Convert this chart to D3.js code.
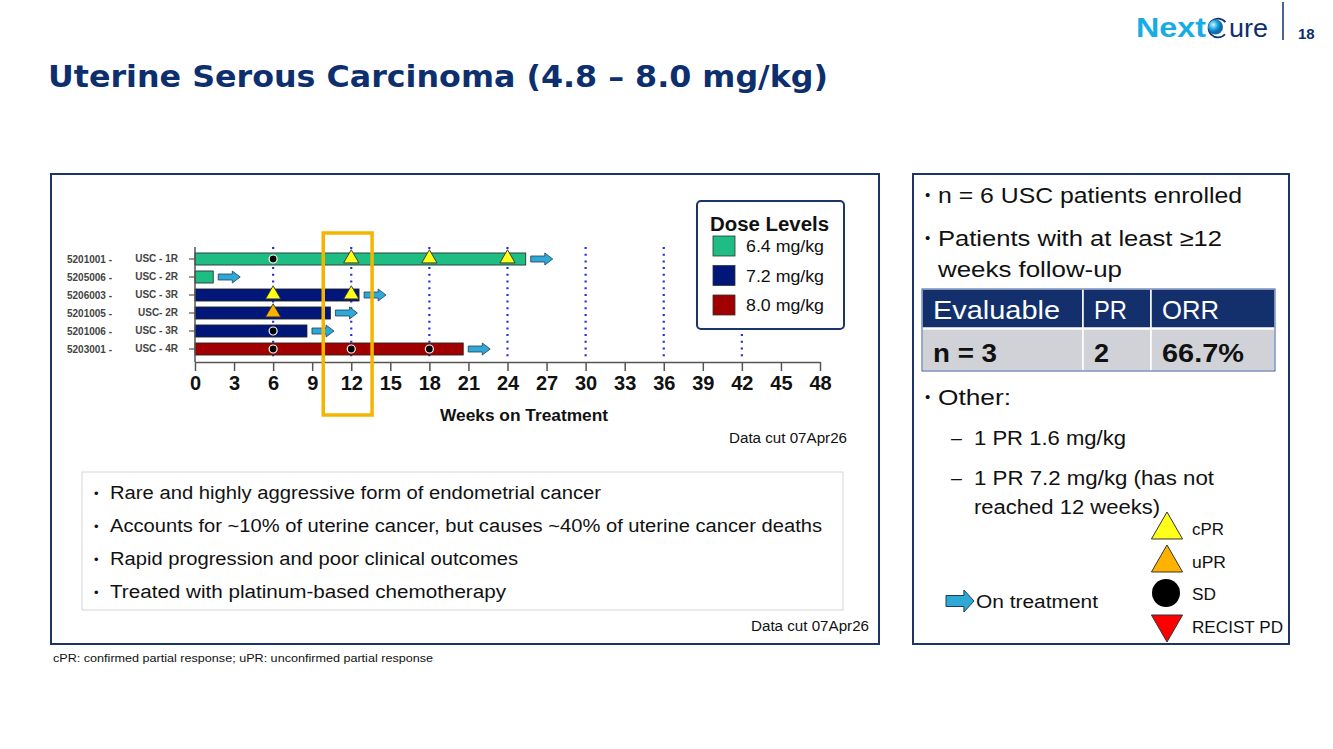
<!DOCTYPE html>
<html>
<head>
<meta charset="utf-8">
<script src="https://cdn.jsdelivr.net/npm/d3@7"></script>
<style>
  body { margin: 0; background: #fff; }
  svg { display: block; }
  text { font-family: "Liberation Sans", Arial, sans-serif; }
</style>
</head>
<body>
<svg id="slide" width="1333" height="749"></svg>
<script>
// patients on the swimmer plot, top to bottom
const patientIds = ["5201001 -", "5205006 -", "5206003 -", "5201005 -", "5201006 -", "5203001 -"];
const cohorts = ["USC - 1R", "USC - 2R", "USC - 3R", "USC- 2R", "USC - 3R", "USC - 4R"];
const weeksOnTx = [25.4, 1.4, 12.6, 10.4, 8.6, 20.6];
const doseOfPatient = ["6.4 mg/kg", "6.4 mg/kg", "7.2 mg/kg", "7.2 mg/kg", "7.2 mg/kg", "8.0 mg/kg"];

// response assessments: [row, week, type]
const assessments = [
  [0, 6, "SD"], [0, 12, "cPR"], [0, 18, "cPR"], [0, 24, "cPR"],
  [2, 6, "cPR"], [2, 12, "cPR"],
  [3, 6, "uPR"],
  [4, 6, "SD"],
  [5, 6, "SD"], [5, 12, "SD"], [5, 18, "SD"]
];

const doseLevels = ["6.4 mg/kg", "7.2 mg/kg", "8.0 mg/kg"];
const doseColors = ["#1ebd84", "#00177a", "#a10000"];
const xTicks = d3.range(0, 49, 3);
const scanWeeks = [6, 12, 18, 24, 30, 36, 42];

const bulletLines = [
  "Rare and highly aggressive form of endometrial cancer",
  "Accounts for ~10% of uterine cancer, but causes ~40% of uterine cancer deaths",
  "Rapid progression and poor clinical outcomes",
  "Treated with platinum-based chemotherapy"
];
const bulletWidths = [491, 712, 408, 396];

const tableHeader = ["Evaluable", "PR", "ORR"];
const tableRow = ["n = 3", "2", "66.7%"];

const navy = "#0d2f6e";
const svg = d3.select("#slide");

// text helper; width squeezes/stretches to the slide's Calibri metrics
function txt(xx, yy, size, str, width, opts = {}) {
  const t = svg.append("text").attr("x", xx).attr("y", yy)
    .style("font-size", size + "px")
    .attr("fill", opts.fill || "#111")
    .style("font-weight", opts.bold ? "bold" : null)
    .attr("text-anchor", opts.anchor || null)
    .text(str);
  if (width) t.attr("textLength", width).attr("lengthAdjust", "spacingAndGlyphs");
  return t;
}

// ---- header ----
svg.append("text")
  .attr("x", 48).attr("y", 87)
  .attr("fill", navy)
  .style("font-family", "'DejaVu Sans', sans-serif")
  .style("font-weight", "bold")
  .style("font-size", "31px")
  .attr("textLength", 780).attr("lengthAdjust", "spacingAndGlyphs")
  .text("Uterine Serous Carcinoma (4.8 – 8.0 mg/kg)");

// logo
txt(1136, 37, 27, "Next", 70, {bold: true, fill: "#17ace6"});
const grad = svg.append("defs").append("radialGradient").attr("id", "ball")
  .attr("cx", "35%").attr("cy", "35%");
grad.append("stop").attr("offset", "0%").attr("stop-color", "#d8f4ff");
grad.append("stop").attr("offset", "60%").attr("stop-color", "#1ea6e0");
grad.append("stop").attr("offset", "100%").attr("stop-color", "#0b6fb0");
svg.append("path")
  .attr("d", d3.arc()({innerRadius: 8.6, outerRadius: 10.3, startAngle: 2.3, endAngle: 2 * Math.PI + 0.9}))
  .attr("transform", "translate(1218,28)").attr("fill", navy);
svg.append("circle").attr("cx", 1215.5).attr("cy", 27).attr("r", 7.5).attr("fill", "url(#ball)");
txt(1229, 37, 25, "ure", 39, {fill: navy});
svg.append("line").attr("x1", 1283).attr("x2", 1283).attr("y1", 2).attr("y2", 40)
  .attr("stroke", navy).attr("stroke-width", 1.5);
txt(1298, 39, 15, "18", null, {bold: true, fill: navy});

// ---- left panel ----
svg.append("rect").attr("x", 51).attr("y", 174).attr("width", 828).attr("height", 470)
  .attr("fill", "#fff").attr("stroke", "#1b3568").attr("stroke-width", 2);

const x = d3.scaleLinear().domain([0, 48]).range([195, 820]);
const y = d3.scaleBand().domain(d3.range(patientIds.length)).range([250, 358])
  .paddingInner(0.33).paddingOuter(0.165);
const axisY = 362;
const doseColor = d3.scaleOrdinal().domain(doseLevels).range(doseColors);

// dotted scan lines
svg.append("g").selectAll("line").data(scanWeeks).join("line")
  .attr("x1", d => x(d)).attr("x2", d => x(d))
  .attr("y1", 247).attr("y2", 358)
  .attr("stroke", "#2a2fd0").attr("stroke-width", 2.2)
  .attr("stroke-dasharray", "2,4.7");

// bars
svg.append("g").selectAll("rect").data(weeksOnTx).join("rect")
  .attr("x", x(0)).attr("y", (d, i) => y(i))
  .attr("width", d => x(d) - x(0)).attr("height", y.bandwidth())
  .attr("fill", (d, i) => doseColor(doseOfPatient[i]))
  .attr("stroke", "#222").attr("stroke-width", 0.8);

// on-treatment arrows
function arrowPath(x0, cy, len, body, head) {
  const hl = len * 0.36;
  return `M${x0},${cy - body / 2} L${x0 + len - hl},${cy - body / 2} L${x0 + len - hl},${cy - head / 2}` +
    ` L${x0 + len},${cy} L${x0 + len - hl},${cy + head / 2} L${x0 + len - hl},${cy + body / 2}` +
    ` L${x0},${cy + body / 2} Z`;
}
svg.append("g").selectAll("path").data(weeksOnTx).join("path")
  .attr("d", (d, i) => arrowPath(x(d) + 5, y(i) + y.bandwidth() / 2, 22, 6, 12))
  .attr("fill", "#2fa8d6").attr("stroke", "#1c3c5c").attr("stroke-width", 0.8);

// response markers
const tri = d3.symbol().type(d3.symbolTriangle).size(100);
const markerColor = {cPR: "#ffff1a", uPR: "#ffb300"};
const marks = svg.append("g");
assessments.forEach(([row, wk, type]) => {
  const cx = x(wk), cy = y(row) + y.bandwidth() / 2;
  if (type === "SD") {
    marks.append("circle").attr("cx", cx).attr("cy", cy).attr("r", 4)
      .attr("fill", "#000").attr("stroke", "#fff").attr("stroke-width", 1.2);
  } else {
    marks.append("path").attr("d", tri)
      .attr("transform", `translate(${cx},${cy - 0.5})`)
      .attr("fill", markerColor[type]).attr("stroke", "#333").attr("stroke-width", 0.9);
  }
});

// x axis
const xAxis = svg.append("g").attr("transform", `translate(0,${axisY})`)
  .call(d3.axisBottom(x).tickValues(xTicks).tickSize(9).tickSizeOuter(0).tickPadding(5));
xAxis.select(".domain").attr("stroke", "#555").attr("stroke-width", 1.5);
xAxis.selectAll(".tick line").attr("stroke", "#555").attr("stroke-width", 1.5);
xAxis.selectAll(".tick text")
  .style("font-family", "'Liberation Sans', sans-serif")
  .style("font-size", "20px").style("font-weight", "bold").attr("fill", "#111");

// y axis
const yAxis = svg.append("g").attr("transform", `translate(${x(0)},0)`)
  .call(d3.axisLeft(y).tickSize(6).tickSizeOuter(0).tickPadding(11).tickFormat(i => cohorts[i]));
yAxis.select(".domain").attr("d", `M0,247V${axisY}`).attr("stroke", "#555").attr("stroke-width", 1.5);
yAxis.selectAll(".tick line").attr("stroke", "#555").attr("stroke-width", 1.2);
yAxis.selectAll(".tick text")
  .style("font-size", "10px").style("font-weight", "bold").attr("fill", "#444");
svg.append("g").selectAll("text").data(patientIds).join("text")
  .attr("x", 67).attr("y", (d, i) => y(i) + y.bandwidth() / 2 + 3.5)
  .style("font-size", "10px").style("font-weight", "bold").attr("fill", "#444")
  .text(d => d);

txt(524, 421, 16, "Weeks on Treatment", 168, {bold: true, anchor: "middle"});

// 12-week highlight
svg.append("rect").attr("x", x(9.85)).attr("y", 233)
  .attr("width", x(13.6) - x(9.85)).attr("height", 182)
  .attr("fill", "none").attr("stroke", "#f5b400").attr("stroke-width", 3.5);

// dose legend
svg.append("rect").attr("x", 697).attr("y", 201).attr("width", 147).attr("height", 128)
  .attr("rx", 4).attr("fill", "#fff").attr("stroke", "#1b3568").attr("stroke-width", 2);
txt(710, 231, 20, "Dose Levels", 119, {bold: true});
doseLevels.forEach((d, i) => {
  svg.append("rect").attr("x", 713).attr("y", 236 + i * 29.5).attr("width", 22).attr("height", 20)
    .attr("fill", doseColor(d)).attr("stroke", "#333").attr("stroke-width", 0.8);
  txt(746, 252 + i * 29.5, 16, d, 78);
});

txt(847, 443, 14, "Data cut 07Apr26", 118, {anchor: "end"});

// bullet box
svg.append("rect").attr("x", 82).attr("y", 472).attr("width", 761).attr("height", 138)
  .attr("fill", "#fff").attr("stroke", "#d6d6d6").attr("stroke-width", 1);
bulletLines.forEach((t, i) => {
  const by = 499 + i * 33;
  txt(94, by - 1, 13, "•");
  txt(110, by, 18, t, bulletWidths[i]);
});
txt(869, 631, 14, "Data cut 07Apr26", 118, {anchor: "end"});

txt(53, 662, 11.5, "cPR: confirmed partial response; uPR: unconfirmed partial response", 380);

// ---- right panel ----
svg.append("rect").attr("x", 913).attr("y", 174).attr("width", 376).attr("height", 470)
  .attr("fill", "#fff").attr("stroke", "#1b3568").attr("stroke-width", 2);

txt(925, 200, 15, "•");
txt(938, 203, 22, "n = 6 USC patients enrolled", 304);
txt(925, 243, 15, "•");
txt(938, 246, 22, "Patients with at least ≥12", 284);
txt(938, 277, 22, "weeks follow-up", 184);

// table
const colX = [922, 1083, 1151, 1275];
const headW = [127, 33, 57];
const rowW = [64, 15, 82];
tableHeader.forEach((h, i) => {
  svg.append("rect").attr("x", colX[i]).attr("y", 289).attr("width", colX[i + 1] - colX[i]).attr("height", 39)
    .attr("fill", "#13306d").attr("stroke", "#fff").attr("stroke-width", 1.5);
  svg.append("rect").attr("x", colX[i]).attr("y", 329).attr("width", colX[i + 1] - colX[i]).attr("height", 42)
    .attr("fill", "#d0d2d8").attr("stroke", "#fff").attr("stroke-width", 1.5);
  txt(colX[i] + 11, 319, 26, h, headW[i], {fill: "#fff"});
  txt(colX[i] + 11, 362, 26, tableRow[i], rowW[i], {bold: true});
});
svg.append("rect").attr("x", 922).attr("y", 289).attr("width", 353).attr("height", 82)
  .attr("fill", "none").attr("stroke", "#3a5a9a").attr("stroke-width", 1);

txt(925, 402, 15, "•");
txt(938, 405, 22, "Other:", 73);
txt(951, 445, 19.5, "–");
txt(974, 445, 19.5, "1 PR 1.6 mg/kg", 152);
txt(951, 485, 19.5, "–");
txt(974, 485, 19.5, "1 PR 7.2 mg/kg (has not", 240);
txt(974, 514, 19.5, "reached 12 weeks)", 186);

// response legend
const respLegend = [
  {label: "cPR", y: 528, shape: "up", fill: "#ffff1a", w: 32},
  {label: "uPR", y: 561, shape: "up", fill: "#ffb300", w: 34},
  {label: "SD", y: 593, shape: "circle", fill: "#000", w: 24},
  {label: "RECIST PD", y: 626, shape: "down", fill: "#ff0000", w: 91}
];
respLegend.forEach(d => {
  if (d.shape === "circle") {
    svg.append("circle").attr("cx", 1166).attr("cy", d.y).attr("r", 14).attr("fill", d.fill);
  } else {
    svg.append("path").attr("d", d3.symbol().type(d3.symbolTriangle).size(420))
      .attr("transform", `translate(1167,${d.y + (d.shape === "up" ? 2 : -2)}) rotate(${d.shape === "up" ? 0 : 180})`)
      .attr("fill", d.fill).attr("stroke", "#333").attr("stroke-width", 1);
  }
  txt(1192, d.y + 7, 17, d.label, d.w);
});

svg.append("path").attr("d", arrowPath(946, 601, 28, 11, 22))
  .attr("fill", "#2fa8d6").attr("stroke", "#1c3c5c").attr("stroke-width", 1);
txt(976, 608, 18, "On treatment", 122);
</script>
</body>
</html>
